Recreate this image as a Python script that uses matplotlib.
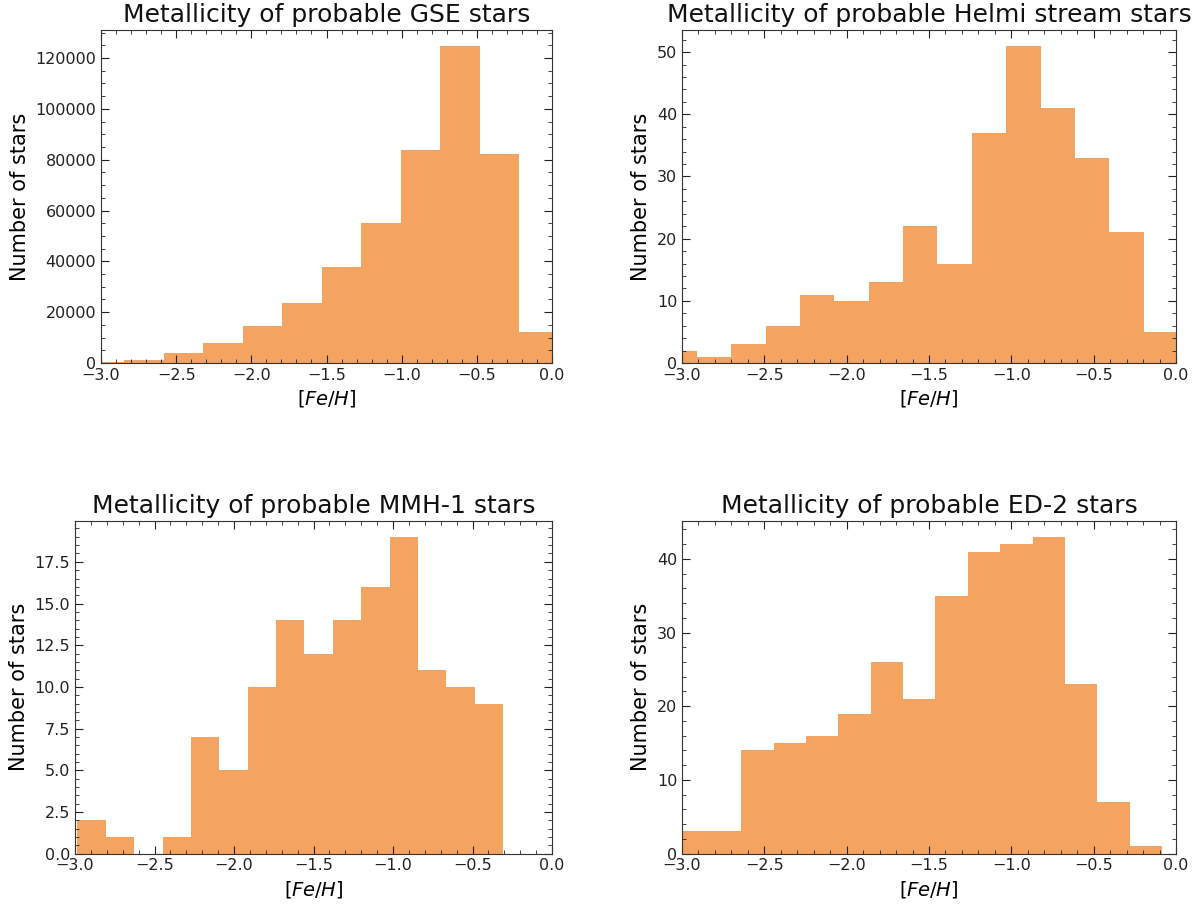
import numpy as np
import matplotlib
matplotlib.use("Agg")
import matplotlib.pyplot as plt
from matplotlib.ticker import AutoMinorLocator

# conteos, bins de igual ancho entre [lo, hi]
gse_counts = [500, 1300, 3900, 7800, 14500, 23800, 37800, 55000, 84000, 124800, 82300, 12300]
gse_lo, gse_hi = -3.1075, 0.044

helmi_counts = [2, 1, 3, 6, 11, 10, 13, 22, 16, 37, 51, 41, 33, 21, 5]
helmi_lo, helmi_hi = -3.118, 0.012

mmh_counts = [2, 1, 0, 1, 7, 5, 10, 14, 12, 14, 16, 19, 11, 10, 9]
mmh_lo, mmh_hi = -2.985, -0.308

ed2_counts = [3, 3, 14, 15, 16, 19, 26, 21, 35, 41, 42, 43, 23, 7, 1]
ed2_lo, ed2_hi = -3.033, -0.085

titulos = ['Metallicity of probable GSE stars',
           'Metallicity of probable Helmi stream stars',
           'Metallicity of probable MMH-1 stars',
           'Metallicity of probable ED-2 stars']

paneles = [(gse_counts, gse_lo, gse_hi),
           (helmi_counts, helmi_lo, helmi_hi),
           (mmh_counts, mmh_lo, mmh_hi),
           (ed2_counts, ed2_lo, ed2_hi)]

# posiciones de los ejes en pixeles (izq, der, arriba, abajo)
W, H = 1195, 905
cajas = [(101, 552, 30, 363),
         (682, 1176, 30, 363),
         (75, 552, 521, 853.5),
         (682, 1176, 521, 853.5)]

fig = plt.figure(figsize=(W / 100, H / 100), dpi=100)

for (counts, lo, hi), titulo, (l, r, t, b) in zip(paneles, titulos, cajas):
    ax = fig.add_axes([l / W, 1 - b / H, (r - l) / W, (b - t) / H])
    edges = np.linspace(lo, hi, len(counts) + 1)
    centros = (edges[:-1] + edges[1:]) / 2
    ax.hist(centros, bins=edges, weights=counts, color='sandybrown')
    ax.set_xlim(-3, 0)
    ax.set_title(titulo, fontsize=18, color='#111111')
    ax.set_xlabel(r'$[Fe/H]$', fontsize=14)
    ax.set_ylabel('Number of stars', fontsize=15)
    ax.xaxis.set_minor_locator(AutoMinorLocator())
    ax.yaxis.set_minor_locator(AutoMinorLocator())
    ax.tick_params(which='both', direction='in', top=True, right=True,
                   labelsize=11.5, colors='#222222')
    ax.tick_params(which='major', length=6)
    ax.tick_params(which='minor', length=3)
    for s in ax.spines.values():
        s.set_color('#333333')

fig.savefig('out.png', dpi=100)
